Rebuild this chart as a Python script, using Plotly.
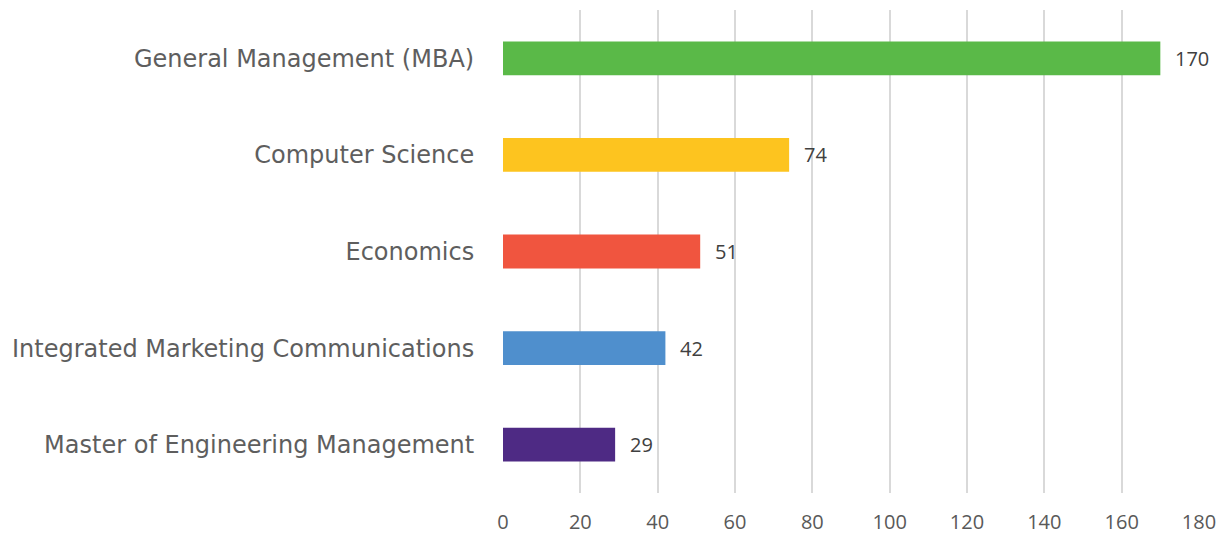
import plotly.graph_objects as go

categories = ["General Management (MBA)", "Computer Science", "Economics",
              "Integrated Marketing Communications", "Master of Engineering Management"]
values = [170, 74, 51, 42, 29]
colors = ["#5AB948", "#FDC41F", "#F0553F", "#4F8FCD", "#4E2A84"]
tick_vals = [0, 20, 40, 60, 80, 100, 120, 140, 160, 180]

fig = go.Figure()
fig.add_trace(go.Bar(
    x=values, y=categories, orientation="h",
    marker=dict(color=colors, line=dict(width=0)),
    width=0.35, hoverinfo="x+y",
))

for c, v in zip(categories, values):
    fig.add_annotation(x=v, y=c, text=str(v), showarrow=False, xanchor="left",
                       xshift=13, font=dict(family="Open Sans", size=20, color="#404040"))

fig.update_layout(
    width=1221, height=527,
    margin=dict(l=495, r=30, t=2, b=42, autoexpand=False),
    paper_bgcolor="white", plot_bgcolor="white",
    showlegend=False,
    xaxis=dict(range=[0, 180], tickvals=tick_vals, showgrid=True, gridcolor="#D9D9D9",
               gridwidth=2, zeroline=False, showline=False, automargin=False,
               ticks="outside", ticklen=11, tickcolor="rgba(0,0,0,0)",
               tickfont=dict(family="Open Sans", size=20, color="#595959")),
    yaxis=dict(categoryorder="array", categoryarray=categories[::-1],
               showgrid=False, zeroline=False, showline=False, automargin=False,
               ticks="outside", ticklen=23, tickcolor="rgba(0,0,0,0)",
               tickfont=dict(family="DejaVu Sans", size=24, color="#5E5E5E")),
)
fig.write_html("out.html")
